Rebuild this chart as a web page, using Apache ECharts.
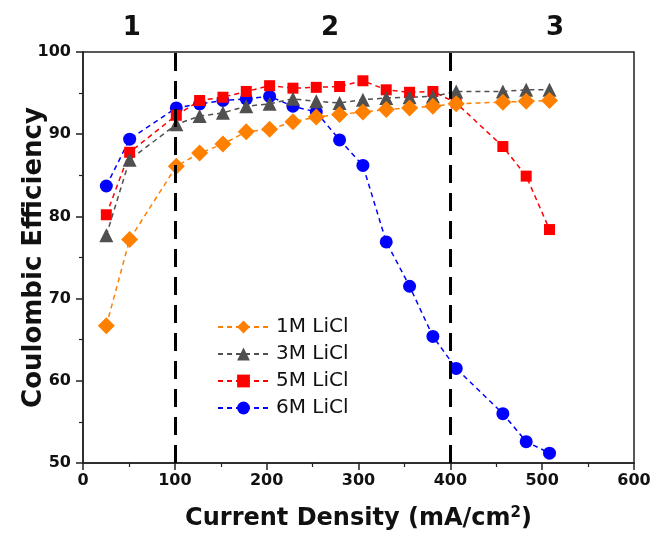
<!DOCTYPE html>
<html>
<head>
<meta charset="utf-8">
<script src="https://cdn.jsdelivr.net/npm/echarts@6/dist/echarts.min.js"></script>
<style>
  html, body { margin: 0; padding: 0; background: #fff; }
  #chart { width: 655px; height: 534px; }
</style>
</head>
<body>
<div id="chart"></div>
<script>
// current density (mA/cm2)
const currentDensity = [25.4, 50.8, 101.6, 127, 152.4, 177.8, 203.2, 228.6, 254, 279.4,
  304.8, 330.2, 355.6, 381, 406.4, 457.2, 482.6, 508];

const ce1M = [66.7, 77.2, 86.1, 87.7, 88.8, 90.3, 90.6, 91.5, 92.1, 92.4,
  92.7, 93.0, 93.2, 93.4, 93.7, 93.9, 94.0, 94.1];
const ce3M = [77.7, 86.9, 91.2, 92.2, 92.6, 93.4, 93.7, 94.3, 94.0, 93.8,
  94.2, 94.4, 94.5, 94.6, 95.2, 95.2, 95.4, 95.4];
const ce5M = [80.2, 87.8, 92.3, 94.1, 94.5, 95.2, 95.9, 95.6, 95.7, 95.8,
  96.5, 95.4, 95.1, 95.2, 93.8, 88.5, 84.9, 78.4];
const ce6M = [83.7, 89.4, 93.2, 93.7, 94.1, 94.3, 94.6, 93.4, 92.7, 89.3,
  86.2, 76.9, 71.5, 65.4, 61.5, 56.0, 52.6, 51.2];

const seriesNames = ['1M LiCl', '3M LiCl', '5M LiCl', '6M LiCl'];
const regionBounds = [100, 400];
const regionLabels = ['1', '2', '3'];
const regionLabelX = [53, 269, 514];

const FONT = 'DejaVu Sans';

function pairs(ys) {
  return currentDensity.map((x, i) => [x, ys[i]]);
}

function lineSeries(name, ys, color, symbol, size) {
  return {
    name: name,
    type: 'line',
    data: pairs(ys),
    symbol: symbol,
    symbolSize: size,
    itemStyle: { color: color },
    lineStyle: { color: color, width: 1.5, type: [5, 4] },
    emphasis: { disabled: true },
    animation: false
  };
}

const chart = echarts.init(document.getElementById('chart'));

const option = {
  backgroundColor: '#fff',
  animation: false,
  grid: {
    left: 83, right: 21, top: 52, bottom: 71,
    outerBoundsMode: 'none',
    containLabel: false,
    show: true, borderColor: '#222', borderWidth: 1.5
  },
  legend: {
    data: seriesNames,
    orient: 'vertical',
    left: 212,
    top: 312,
    itemWidth: 51,
    itemHeight: 16,
    itemGap: 7,
    textStyle: { fontFamily: FONT, fontSize: 20, color: '#111', padding: [0, 0, 0, 2] }
  },
  xAxis: {
    type: 'value',
    min: 0, max: 600, interval: 100,
    name: 'Current Density (mA/cm{sup|2})',
    nameLocation: 'middle',
    nameGap: 43,
    nameMoveOverlap: false,
    nameTextStyle: {
      fontFamily: FONT, fontSize: 24, fontWeight: 'bold', color: '#111',
      rich: { sup: { fontFamily: FONT, fontSize: 15, fontWeight: 'bold', verticalAlign: 'top', padding: [0, 0, 10, 0] } }
    },
    axisLine: { lineStyle: { color: '#222', width: 1.5 } },
    axisTick: { inside: false, length: 7, lineStyle: { color: '#222', width: 1.5 } },
    minorTick: { show: true, splitNumber: 2, length: 4, lineStyle: { color: '#222', width: 1.2 } },
    splitLine: { show: false },
    axisLabel: { fontFamily: FONT, fontSize: 16, fontWeight: 'bold', color: '#111', margin: 10 }
  },
  yAxis: {
    type: 'value',
    min: 50, max: 100, interval: 10,
    name: 'Coulombic Efficiency',
    nameLocation: 'middle',
    nameGap: 36,
    nameMoveOverlap: false,
    nameTextStyle: { fontFamily: FONT, fontSize: 26, fontWeight: 'bold', color: '#111' },
    axisLine: { show: true, lineStyle: { color: '#222', width: 1.5 } },
    axisTick: { inside: false, length: 7, lineStyle: { color: '#222', width: 1.5 } },
    minorTick: { show: true, splitNumber: 2, length: 4, lineStyle: { color: '#222', width: 1.2 } },
    splitLine: { show: false },
    axisLabel: { fontFamily: FONT, fontSize: 16, fontWeight: 'bold', color: '#111', margin: 12 }
  },
  series: [
    Object.assign(lineSeries(seriesNames[3], ce6M, '#0000FF', 'circle', 13), {
      markLine: {
        silent: true,
        symbol: 'none',
        label: { show: false },
        lineStyle: { color: '#000', width: 3, type: [18, 10] },
        data: regionBounds.map(v => ({ xAxis: v }))
      }
    }),
    lineSeries(seriesNames[2], ce5M, '#FF0000', 'rect', 11),
    lineSeries(seriesNames[1], ce3M, '#505050', 'triangle', 14),
    lineSeries(seriesNames[0], ce1M, '#FF8000', 'diamond', 17)
  ]
};

chart.setOption(option);

chart.setOption({
  graphic: regionLabels.map((t, i) => ({
    type: 'text',
    x: chart.convertToPixel({ xAxisIndex: 0 }, regionLabelX[i]),
    y: 28,
    style: {
      text: t, fontFamily: FONT, fontSize: 26, fontWeight: 'bold', fill: '#111',
      align: 'center', verticalAlign: 'middle'
    }
  }))
});
</script>
</body>
</html>
